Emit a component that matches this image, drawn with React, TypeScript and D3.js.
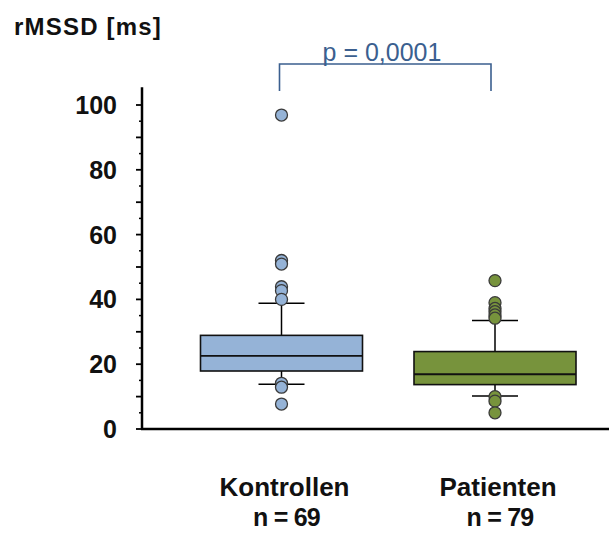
import React from "react";
import * as d3 from "d3";

const categories = ["Kontrollen", "Patienten"];
const sampleSizes = ["n = 69", "n = 79"];
const q1 = [17.9, 13.7];
const medians = [22.6, 16.9];
const q3 = [28.9, 23.9];
const whiskerLow = [13.8, 10.2];
const whiskerHigh = [38.8, 33.5];
const outliers = [
  [96.9, 52.0, 50.9, 43.9, 42.7, 40.0, 14.1, 12.9, 7.7],
  [45.8, 39.0, 37.2, 36.2, 35.2, 34.2, 10.0, 8.6, 5.0],
];
const fills = ["#95B3D7", "#77933C"];
const yTicks = [0, 20, 40, 60, 80, 100];
const pLabel = "p = 0,0001";
const yTitle = "rMSSD [ms]";

const W = 609;
const H = 535;
const FONT = "'Liberation Sans', Arial, sans-serif";

export default function App() {
  const y = d3.scaleLinear().domain([0, 100]).range([429, 105]);
  const x = d3.scalePoint<string>().domain(categories).range([281.5, 495]);
  const axisX = 142;
  const yTop = y(105.5);
  const boxW = 162;
  const capW = 46;
  const major = d3.range(0, 101, 10);
  const minor = d3.range(5, 101, 10);
  const pColor = "#3B5F8F";

  return (
    <svg width={W} height={H} style={{ position: "absolute", left: 0, top: 0, background: "#fff" }}>
      <text x={14} y={35} fontFamily={FONT} fontWeight="bold" fontSize={24} letterSpacing={1.2} fill="#111">
        {yTitle}
      </text>
      {/* y axis */}
      <line x1={axisX} x2={axisX} y1={yTop} y2={y(0) + 1} stroke="#000" strokeWidth={2.5} />
      {major.map((v) => (
        <line key={"M" + v} x1={axisX - 6} x2={axisX} y1={y(v)} y2={y(v)} stroke="#000" strokeWidth={1.8} />
      ))}
      {minor.map((v) => (
        <line key={"m" + v} x1={axisX - 3} x2={axisX} y1={y(v)} y2={y(v)} stroke="#000" strokeWidth={1.5} />
      ))}
      {yTicks.map((v) => (
        <text key={"t" + v} x={117} y={y(v)} dy="0.36em" textAnchor="end" fontFamily={FONT} fontWeight="bold" fontSize={25} fill="#111">
          {v}
        </text>
      ))}
      {/* x axis */}
      <line x1={axisX - 1} x2={W} y1={y(0)} y2={y(0)} stroke="#000" strokeWidth={2.5} />

      {categories.map((c, i) => {
        const cx = x(c) as number;
        return (
          <g key={c}>
            <line x1={cx} x2={cx} y1={y(whiskerHigh[i])} y2={y(q3[i])} stroke="#000" strokeWidth={1.5} />
            <line x1={cx} x2={cx} y1={y(q1[i])} y2={y(whiskerLow[i])} stroke="#000" strokeWidth={1.5} />
            <line x1={cx - capW / 2} x2={cx + capW / 2} y1={y(whiskerHigh[i])} y2={y(whiskerHigh[i])} stroke="#000" strokeWidth={1.5} />
            <line x1={cx - capW / 2} x2={cx + capW / 2} y1={y(whiskerLow[i])} y2={y(whiskerLow[i])} stroke="#000" strokeWidth={1.5} />
            <rect x={cx - boxW / 2} y={y(q3[i])} width={boxW} height={y(q1[i]) - y(q3[i])} fill={fills[i]} stroke="#111" strokeWidth={1.6} />
            <line x1={cx - boxW / 2} x2={cx + boxW / 2} y1={y(medians[i])} y2={y(medians[i])} stroke="#111" strokeWidth={1.8} />
            {outliers[i].map((v, j) => (
              <circle key={j} cx={cx} cy={y(v)} r={6} fill={fills[i]} stroke="#3a3a3a" strokeWidth={1.3} />
            ))}
            <text x={cx + 3} y={496} textAnchor="middle" fontFamily={FONT} fontWeight="bold" fontSize={26} fill="#111">
              {c}
            </text>
            <text x={cx + 5} y={526} textAnchor="middle" fontFamily={FONT} fontWeight="bold" fontSize={25} letterSpacing={-0.8} fill="#111">
              {sampleSizes[i]}
            </text>
          </g>
        );
      })}

      {/* significance bracket */}
      <path d={`M279.5,91 V64 H491 V91`} fill="none" stroke={pColor} strokeWidth={1.6} />
      <text x={382} y={61} textAnchor="middle" fontFamily={FONT} fontSize={25} fill={pColor}>
        {pLabel}
      </text>
    </svg>
  );
}
